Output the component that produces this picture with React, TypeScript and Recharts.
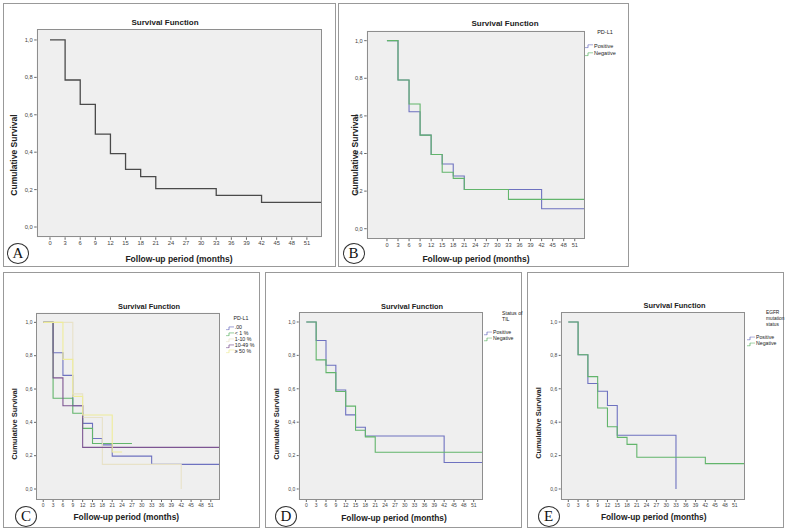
import React from "react";
import { CartesianGrid, Line, LineChart, XAxis, YAxis } from "recharts";

const W = 788;
const H = 532;

const monthTicks = [0, 3, 6, 9, 12, 15, 18, 21, 24, 27, 30, 33, 36, 39, 42, 45, 48, 51];
const survivalTicks = [0, 0.2, 0.4, 0.6, 0.8, 1];

// A - whole cohort
const allTimes = [0, 3, 6, 9, 12, 15, 18, 21, 33, 42, 54];
const allSurv = [1, 0.786, 0.656, 0.497, 0.392, 0.308, 0.269, 0.205, 0.169, 0.132, 0.132];

// B - PD-L1 positive / negative
const pdPosTimes = [0, 3, 6, 9, 12, 15, 18, 21, 42, 54];
const pdPosSurv = [1, 0.791, 0.622, 0.498, 0.395, 0.344, 0.28, 0.209, 0.106, 0.106];
const pdNegTimes = [0, 3, 6, 9, 12, 15, 18, 21, 33, 54];
const pdNegSurv = [1, 0.791, 0.663, 0.498, 0.395, 0.3, 0.268, 0.209, 0.156, 0.156];

// C - PD-L1 expression groups
const pd00Times = [0, 3, 6, 9, 12, 15, 18, 21, 33, 54];
const pd00Surv = [1, 0.818, 0.682, 0.5, 0.394, 0.303, 0.265, 0.197, 0.148, 0.148];
const pdLt1Times = [0, 3, 9, 12, 15, 27];
const pdLt1Surv = [1, 0.545, 0.455, 0.364, 0.273, 0.273];
const pd1to10Times = [0, 9, 12, 18, 42];
const pd1to10Surv = [1, 0.571, 0.429, 0.148, 0];
const pd10to49Times = [0, 3, 6, 12, 54];
const pd10to49Surv = [1, 0.667, 0.5, 0.25, 0.25];
const pdGe50Times = [0, 6, 9, 12, 21, 24];
const pdGe50Surv = [1, 0.778, 0.556, 0.444, 0.222, 0.222];

// D - TIL status
const tilPosTimes = [0, 3, 6, 9, 12, 15, 18, 42, 54];
const tilPosSurv = [1, 0.889, 0.741, 0.593, 0.444, 0.37, 0.317, 0.159, 0.159];
const tilNegTimes = [0, 3, 6, 9, 12, 15, 18, 21, 54];
const tilNegSurv = [1, 0.773, 0.697, 0.584, 0.496, 0.352, 0.312, 0.22, 0.22];

// E - EGFR mutation status
const egfrPosTimes = [0, 3, 6, 9, 12, 15, 33];
const egfrPosSurv = [1, 0.804, 0.632, 0.585, 0.5, 0.322, 0];
const egfrNegTimes = [0, 3, 6, 9, 12, 15, 18, 21, 42, 54];
const egfrNegSurv = [1, 0.804, 0.673, 0.485, 0.373, 0.309, 0.267, 0.19, 0.152, 0.152];

const BLUE = "#6e72c0";
const GREEN = "#62b56b";
const SANS = '"Liberation Sans", Arial, sans-serif';

interface Series {
  name: string;
  color: string;
  times: number[];
  surv: number[];
}

interface Rect {
  l: number;
  t: number;
  r: number;
  b: number;
}

interface PanelSpec {
  letter: string;
  box: { x: number; y: number; w: number; h: number };
  plot: Rect;
  xDomain: [number, number];
  yDomain: [number, number];
  tickFont: number;
  tickLen: number;
  title: { x: number; y: number; size: number };
  xLabel: { x: number; y: number; size: number };
  yLabel: { x: number; y: number; size: number };
  letterPos: { x: number; y: number };
  series: Series[];
  legend?: {
    titleLines: string[];
    titleX: number;
    titleY: number;
    titleAlign: "center" | "left";
    titleSize: number;
    iconX: number;
    itemsY: number[];
    size: number;
  };
}

const toPoints = (times: number[], surv: number[]) =>
  times.map((t, i) => ({ t, s: surv[i] }));

const fmtSurv = (v: number) => v.toFixed(1).replace(".", ",");

const panels: PanelSpec[] = [
  {
    letter: "A",
    box: { x: 3, y: 3, w: 333, h: 264 },
    plot: { l: 36.7, t: 29.3, r: 322, b: 237.3 },
    xDomain: [-2.64, 54],
    yDomain: [-0.055, 1.057],
    tickFont: 5.8,
    tickLen: 2.5,
    title: { x: 165, y: 23, size: 8 },
    xLabel: { x: 179, y: 258.5, size: 8.5 },
    yLabel: { x: 13.5, y: 155, size: 8.5 },
    letterPos: { x: 18, y: 253 },
    series: [{ name: "all", color: "#4a4a4a", times: allTimes, surv: allSurv }],
  },
  {
    letter: "B",
    box: { x: 338, y: 3, w: 291, h: 264 },
    plot: { l: 366.7, t: 30.7, r: 584.7, b: 238.7 },
    xDomain: [-5.5, 53.7],
    yDomain: [-0.053, 1.053],
    tickFont: 5.6,
    tickLen: 2.5,
    title: { x: 505, y: 24, size: 8 },
    xLabel: { x: 476, y: 258.7, size: 8.5 },
    yLabel: { x: 355, y: 155, size: 8.5 },
    letterPos: { x: 353.5, y: 253 },
    series: [
      { name: "Positive", color: BLUE, times: pdPosTimes, surv: pdPosSurv },
      { name: "Negative", color: GREEN, times: pdNegTimes, surv: pdNegSurv },
    ],
    legend: {
      titleLines: ["PD-L1"],
      titleX: 605,
      titleY: 33.3,
      titleAlign: "center",
      titleSize: 5.5,
      iconX: 585,
      itemsY: [46.7, 54],
      size: 5.5,
    },
  },
  {
    letter: "C",
    box: { x: 3, y: 272, w: 257, h: 256 },
    plot: { l: 36, t: 312.7, r: 220, b: 500 },
    xDomain: [-2.2, 53.8],
    yDomain: [-0.066, 1.058],
    tickFont: 5,
    tickLen: 2,
    title: { x: 149, y: 306.7, size: 7.4 },
    xLabel: { x: 126.3, y: 517.3, size: 8.4 },
    yLabel: { x: 15, y: 424, size: 7.5 },
    letterPos: { x: 26, y: 516 },
    series: [
      { name: ".00", color: BLUE, times: pd00Times, surv: pd00Surv },
      { name: "< 1 %", color: GREEN, times: pdLt1Times, surv: pdLt1Surv },
      { name: "1-10 %", color: "#e8e2c8", times: pd1to10Times, surv: pd1to10Surv },
      { name: "10-49 %", color: "#7d5592", times: pd10to49Times, surv: pd10to49Surv },
      { name: "≥ 50 %", color: "#eeec9a", times: pdGe50Times, surv: pdGe50Surv },
    ],
    legend: {
      titleLines: ["PD-L1"],
      titleX: 241,
      titleY: 319,
      titleAlign: "center",
      titleSize: 5.3,
      iconX: 225.7,
      itemsY: [328, 334, 340, 346, 351.7],
      size: 5.3,
    },
  },
  {
    letter: "D",
    box: { x: 265, y: 272, w: 257, h: 256 },
    plot: { l: 298.7, t: 312.3, r: 482.7, b: 500 },
    xDomain: [-2.32, 53.75],
    yDomain: [-0.066, 1.058],
    tickFont: 5,
    tickLen: 2,
    title: { x: 412, y: 306.7, size: 7.4 },
    xLabel: { x: 394, y: 518, size: 8.4 },
    yLabel: { x: 277, y: 424, size: 7.5 },
    letterPos: { x: 286, y: 516 },
    series: [
      { name: "Positive", color: BLUE, times: tilPosTimes, surv: tilPosSurv },
      { name: "Negative", color: GREEN, times: tilNegTimes, surv: tilNegSurv },
    ],
    legend: {
      titleLines: ["Status of", "TIL"],
      titleX: 502,
      titleY: 314.3,
      titleAlign: "left",
      titleSize: 5.2,
      iconX: 484,
      itemsY: [333.3, 339.3],
      size: 5.2,
    },
  },
  {
    letter: "E",
    box: { x: 527, y: 272, w: 257, h: 256 },
    plot: { l: 560.7, t: 312.3, r: 744.7, b: 500 },
    xDomain: [-2.33, 54.06],
    yDomain: [-0.066, 1.058],
    tickFont: 5,
    tickLen: 2,
    title: { x: 674.5, y: 305.5, size: 7.4 },
    xLabel: { x: 653.7, y: 517.3, size: 8.4 },
    yLabel: { x: 539, y: 423, size: 7.5 },
    letterPos: { x: 548.5, y: 516 },
    series: [
      { name: "Positive", color: BLUE, times: egfrPosTimes, surv: egfrPosSurv },
      { name: "Negative", color: GREEN, times: egfrNegTimes, surv: egfrNegSurv },
    ],
    legend: {
      titleLines: ["EGFR", "mutation", "status"],
      titleX: 766,
      titleY: 312.7,
      titleAlign: "left",
      titleSize: 4.8,
      iconX: 747,
      itemsY: [338.3, 344],
      size: 5.2,
    },
  },
];

function StepIcon({ color }: { color: string }) {
  return (
    <svg width={8} height={4} style={{ display: "block" }}>
      <path d="M0 3.5 H3 V0.5 H8" fill="none" stroke={color} strokeWidth={0.8} />
    </svg>
  );
}

function Text({
  x,
  y,
  size,
  bold,
  rotate,
  align = "center",
  children,
}: {
  x: number;
  y: number;
  size: number;
  bold?: boolean;
  rotate?: boolean;
  align?: "center" | "left";
  children: React.ReactNode;
}) {
  const tx = align === "center" ? "-50%" : "0";
  return (
    <div
      style={{
        position: "absolute",
        left: x,
        top: y,
        transform: `translate(${tx}, -50%)${rotate ? " rotate(-90deg)" : ""}`,
        fontSize: size,
        fontWeight: bold ? 700 : 400,
        fontFamily: SANS,
        color: "#222",
        whiteSpace: "nowrap",
        lineHeight: 1,
      }}
    >
      {children}
    </div>
  );
}

function Panel({ p }: { p: PanelSpec }) {
  const yW = 24;
  const xH = 16;
  const { plot } = p;
  return (
    <>
      <div
        style={{
          position: "absolute",
          left: p.box.x,
          top: p.box.y,
          width: p.box.w,
          height: p.box.h,
          border: "1px solid #999",
          boxSizing: "border-box",
        }}
      />
      <div style={{ position: "absolute", left: 0, top: 0 }}>
        <LineChart
          width={W}
          height={H}
          margin={{
            left: plot.l - yW,
            top: plot.t,
            right: W - plot.r,
            bottom: H - plot.b - xH,
          }}
        >
          <CartesianGrid fill="#efefef" horizontal={false} vertical={false} />
          <XAxis
            type="number"
            dataKey="t"
            domain={p.xDomain}
            allowDataOverflow
            ticks={monthTicks}
            interval={0}
            height={xH}
            axisLine={false}
            tickSize={p.tickLen}
            tickMargin={1.5}
            tickLine={{ stroke: "#666" }}
            tick={{ fontSize: p.tickFont, fill: "#444", fontFamily: SANS }}
          />
          <YAxis
            type="number"
            domain={p.yDomain}
            allowDataOverflow
            ticks={survivalTicks}
            interval={0}
            width={yW}
            axisLine={false}
            tickSize={p.tickLen}
            tickMargin={1.5}
            tickLine={{ stroke: "#666" }}
            tickFormatter={fmtSurv}
            tick={{ fontSize: p.tickFont, fill: "#444", fontFamily: SANS }}
          />
          {p.series.map((s) => (
            <Line
              key={s.name}
              data={toPoints(s.times, s.surv)}
              dataKey="s"
              type="stepAfter"
              stroke={s.color}
              strokeWidth={p.series.length === 1 ? 1.3 : 1.1}
              dot={false}
              activeDot={false}
              isAnimationActive={false}
            />
          ))}
        </LineChart>
      </div>
      <div
        style={{
          position: "absolute",
          left: plot.l,
          top: plot.t,
          width: plot.r - plot.l,
          height: plot.b - plot.t,
          border: "1px solid #8e8e8e",
          boxSizing: "border-box",
        }}
      />
      <Text x={p.title.x} y={p.title.y} size={p.title.size} bold>
        Survival Function
      </Text>
      <Text x={p.xLabel.x} y={p.xLabel.y} size={p.xLabel.size} bold>
        Follow-up period (months)
      </Text>
      <Text x={p.yLabel.x} y={p.yLabel.y} size={p.yLabel.size} bold rotate>
        Cumulative Survival
      </Text>
      {p.legend && (
        <>
          {p.legend.titleLines.map((line, i) => (
            <Text
              key={line}
              x={p.legend!.titleX}
              y={p.legend!.titleY + i * 5.9}
              size={p.legend!.titleSize}
              align={p.legend!.titleAlign}
            >
              {line}
            </Text>
          ))}
          {p.series.map((s, i) => (
            <div
              key={s.name}
              style={{
                position: "absolute",
                left: p.legend!.iconX,
                top: p.legend!.itemsY[i],
                transform: "translateY(-50%)",
                display: "flex",
                alignItems: "center",
                gap: 1,
                fontSize: p.legend!.size,
                fontFamily: SANS,
                color: "#222",
                whiteSpace: "nowrap",
                lineHeight: 1,
              }}
            >
              <StepIcon color={s.color} />
              <span>{s.name}</span>
            </div>
          ))}
        </>
      )}
      <div
        style={{
          position: "absolute",
          left: p.letterPos.x - 11,
          top: p.letterPos.y - 10.5,
          width: 22,
          height: 21,
          border: "1px solid #333",
          borderRadius: "50%",
          boxSizing: "border-box",
          display: "flex",
          alignItems: "center",
          justifyContent: "center",
          fontFamily: '"Liberation Serif", "Times New Roman", serif',
          fontSize: 15,
          color: "#111",
          lineHeight: 1,
        }}
      >
        {p.letter}
      </div>
    </>
  );
}

export default function App() {
  return (
    <div
      style={{
        position: "fixed",
        left: 0,
        top: 0,
        width: W,
        height: H,
        background: "#fff",
        overflow: "hidden",
      }}
    >
      {panels.map((p) => (
        <Panel key={p.letter} p={p} />
      ))}
    </div>
  );
}
